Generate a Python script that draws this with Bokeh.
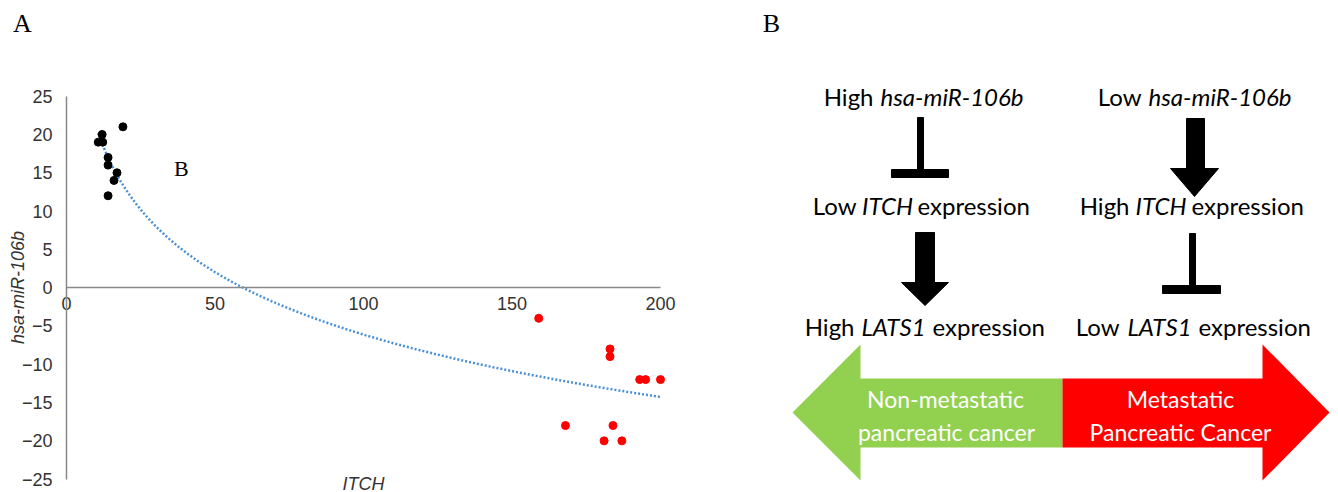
import math
import numpy as np
from bokeh.plotting import figure
from bokeh.layouts import row
from bokeh.models import Range1d, FixedTicker, Label
from bokeh.core.properties import value
from bokeh.embed import file_html
from bokeh.resources import INLINE

# ---------------- data (panel A) ----------------
nonmeta_itch = [12.0, 10.7, 12.2, 19.0, 14.0, 14.0, 17.0, 16.0, 14.0]
nonmeta_mir = [20, 19, 19, 21, 17, 16, 15, 14, 12]
meta_itch = [159, 183, 183, 193, 195, 200, 168, 184, 181, 187]
meta_mir = [-4, -8, -9, -12, -12, -12, -18, -18, -20, -20]
x_ticks = [0, 50, 100, 150, 200]
y_ticks = [-25, -20, -15, -10, -5, 0, 5, 10, 15, 20, 25]
x_title = "ITCH"
y_title = "hsa-miR-106b"

# ---------------- text content (panel B) ----------------
row1_left = [("High", "normal"), ("hsa-miR-106b", "italic")]
row1_right = [("Low", "normal"), ("hsa-miR-106b", "italic")]
row2_left = [("Low", "normal"), ("ITCH", "italic"), ("expression", "normal")]
row2_right = [("High", "normal"), ("ITCH", "italic"), ("expression", "normal")]
row3_left = [("High", "normal"), ("LATS1", "italic"), ("expression", "normal")]
row3_right = [("Low", "normal"), ("LATS1", "italic"), ("expression", "normal")]
green_label = ["Non-metastatic", "pancreatic cancer"]
red_label = ["Metastatic", "Pancreatic Cancer"]

# ---------------- panel A ----------------
AX = "#888888"
TXT = "#333333"
# frame covers the whole figure; both axes are pinned at 0 and limited with bounds
pa = figure(width=760, height=492, x_range=Range1d(-22.22, 233.67), y_range=Range1d(-26.74, 37.49),
            output_backend="svg", toolbar_location=None,
            min_border_left=0, min_border_right=0, min_border_top=0, min_border_bottom=0)
pa.xgrid.visible = False
pa.ygrid.visible = False
pa.outline_line_color = None
pa.background_fill_color = "white"
pa.border_fill_color = "white"

for ax in (pa.xaxis, pa.yaxis):
    ax.axis_line_color = AX
    ax.axis_line_width = 1.5
    ax.major_tick_out = 0
    ax.major_tick_in = 0
    ax.minor_tick_out = 0
    ax.minor_tick_in = 0
    ax.major_label_text_font = "Liberation Sans"
    ax.major_label_text_font_size = "18px"
    ax.major_label_text_color = TXT
    ax.fixed_location = 0

pa.xaxis.bounds = (0, 200)
pa.xaxis.ticker = FixedTicker(ticks=x_ticks)
pa.xaxis.major_label_standoff = 9
pa.yaxis.ticker = FixedTicker(ticks=y_ticks)
pa.yaxis.bounds = (-25, 25)
pa.yaxis.major_label_standoff = 14

all_x = np.array(nonmeta_itch + meta_itch, dtype=float)
all_y = np.array(nonmeta_mir + meta_mir, dtype=float)
coef = np.polyfit(np.log(all_x), all_y, 1)
tx = np.linspace(all_x.min(), all_x.max(), 300)
ty = coef[0] * np.log(tx) + coef[1]
pa.line(tx, ty, line_color="#4A90D9", line_width=2.5, line_dash="2 2")

pa.scatter(nonmeta_itch, nonmeta_mir, size=8, color="black")
pa.scatter(meta_itch, meta_mir, size=8, color="#FF0000")

pa.add_layout(Label(x=17.5, y=205, x_units="screen", y_units="screen", text=y_title,
                    angle=math.pi / 2, text_align="center", text_baseline="middle",
                    text_font="Liberation Sans", text_font_size="18px",
                    text_font_style="italic", text_color=TXT))
pa.add_layout(Label(x=363, y=9, x_units="screen", y_units="screen", text=x_title,
                    text_align="center", text_baseline="middle",
                    text_font="Liberation Sans", text_font_size="18px",
                    text_font_style="italic", text_color=TXT))
pa.add_layout(Label(x=22, y=469, x_units="screen", y_units="screen", text="A",
                    text_align="center", text_baseline="middle",
                    text_font="Liberation Serif", text_font_size="26px", text_color="black"))
pa.add_layout(Label(x=38.7, y=15.6, text="B", text_align="center", text_baseline="middle",
                    text_font="Liberation Serif", text_font_size="22px", text_color="black"))

# ---------------- panel B (diagram) ----------------
pb = figure(width=578, height=492, x_range=Range1d(760, 1338), y_range=Range1d(492, 0),
            output_backend="svg", toolbar_location=None,
            min_border_left=0, min_border_right=0, min_border_top=0, min_border_bottom=0)
pb.axis.visible = False
pb.xgrid.visible = False
pb.ygrid.visible = False
pb.outline_line_color = None
pb.background_fill_color = "white"
pb.border_fill_color = "white"

FONT = value("Lato")


def put(x, y, txt, style, align, size="24px", color="black"):
    pb.text(x=[x], y=[y], text=[txt], text_font=FONT, text_font_size=size,
            text_font_style=style, text_align=align, text_baseline="middle",
            text_color=color)


# row 1
put(873, 96, row1_left[0][0], row1_left[0][1], "right")
put(880, 96, row1_left[1][0], row1_left[1][1], "left")
put(1141, 96, row1_right[0][0], row1_right[0][1], "right")
put(1148, 96, row1_right[1][0], row1_right[1][1], "left")
# row 2
put(856, 205, row2_left[0][0], row2_left[0][1], "right")
put(887, 205, row2_left[1][0], row2_left[1][1], "center")
put(917, 205, row2_left[2][0], row2_left[2][1], "left")
put(1129, 205, row2_right[0][0], row2_right[0][1], "right")
put(1160.5, 205, row2_right[1][0], row2_right[1][1], "center")
put(1191, 205, row2_right[2][0], row2_right[2][1], "left")
# row 3
put(854, 326, row3_left[0][0], row3_left[0][1], "right")
put(893, 326, row3_left[1][0], row3_left[1][1], "center")
put(932, 326, row3_left[2][0], row3_left[2][1], "left")
put(1119, 326, row3_right[0][0], row3_right[0][1], "right")
put(1159, 326, row3_right[1][0], row3_right[1][1], "center")
put(1198, 326, row3_right[2][0], row3_right[2][1], "left")

# inhibition bars (T shapes)
pb.quad(left=[917, 1189], right=[923, 1195], top=[117, 233], bottom=[172, 288], color="black")
pb.quad(left=[891, 1162], right=[948, 1220], top=[169, 285], bottom=[177, 293], color="black")
# block arrows
pb.quad(left=[1186, 915], right=[1204, 934], top=[118, 232], bottom=[169, 283], color="black")
pb.patch([1170, 1218, 1194], [168, 168, 196], color="black")
pb.patch([901, 948, 924.5], [282, 282, 305], color="black")

# double arrow
pb.patch([792, 860, 860, 1062, 1062, 860, 860], [412, 344, 378, 378, 447, 447, 480],
         color="#92D050", line_width=0)
pb.patch([1062, 1262, 1262, 1329, 1262, 1262, 1062], [378, 378, 344, 412, 480, 447, 447],
         color="#FF0000", line_width=0)
put(945, 398, green_label[0], "normal", "center", size="23px", color="white")
put(946, 431, green_label[1], "normal", "center", size="23px", color="white")
put(1180, 398, red_label[0], "normal", "center", size="23px", color="white")
put(1180, 431, red_label[1], "normal", "center", size="23px", color="white")

pb.text(x=[771], y=[23], text=["B"], text_font=value("Liberation Serif"), text_font_size="26px",
        text_align="center", text_baseline="middle", text_color="black")

layout = row(pa, pb)
open("out.html", "w").write(file_html(layout, INLINE))
